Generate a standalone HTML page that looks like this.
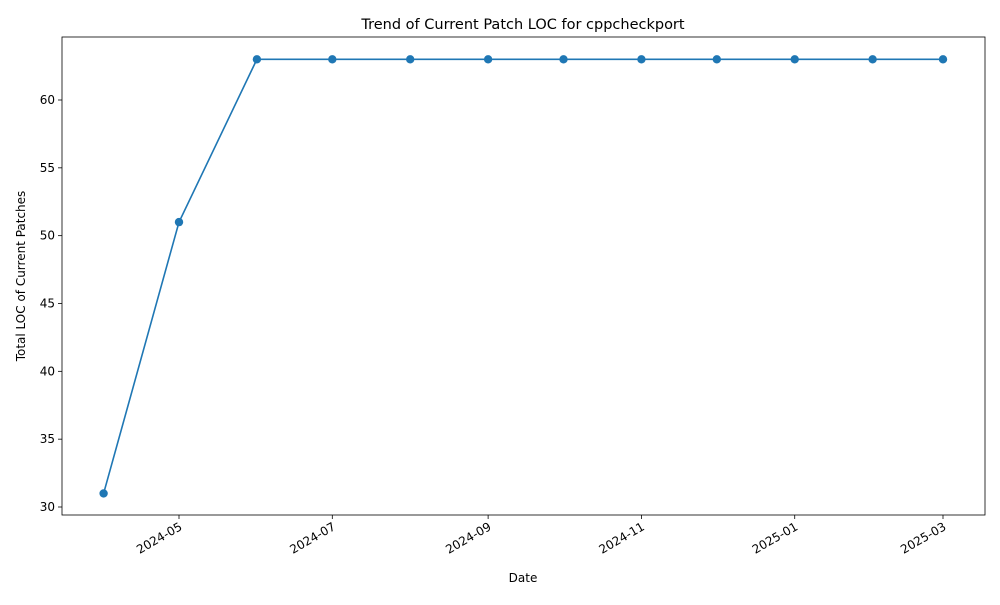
<!DOCTYPE html>
<html><head><meta charset="utf-8"><style>
body{margin:0;background:#fff;font-family:"Liberation Sans","DejaVu Sans",sans-serif}
svg text{font-family:"DejaVu Sans","Liberation Sans",sans-serif;font-size:12px;fill:#000}
</style></head><body>
<svg id="chart" width="1000" height="600">
<rect x="62" y="37" width="923" height="478" fill="none" stroke="#000" stroke-width="0.8"/>
<text x="523" y="29" text-anchor="middle" style="font-size:14.5px">Trend of Current Patch LOC for cppcheckport</text>
<text x="523" y="582" text-anchor="middle">Date</text>
<text transform="translate(25,276) rotate(-90)" text-anchor="middle">Total LOC of Current Patches</text>
<g id="axes"></g><g id="series"></g>
</svg>
<script>
const dates=["2024-04-01","2024-05-01","2024-06-01","2024-07-01","2024-08-01","2024-09-01","2024-10-01","2024-11-01","2024-12-01","2025-01-01","2025-02-01","2025-03-01"];
const values=[31,51,63,63,63,63,63,63,63,63,63,63];
const xTicks=["2024-05","2024-07","2024-09","2024-11","2025-01","2025-03"];
const yTicks=[30,35,40,45,50,55,60];
const NS="http://www.w3.org/2000/svg";
const day=s=>Date.parse(s.length===7?s+"-01":s)/86400000;
const d0=day("2024-05-01"),d1=day("2025-03-01");
const x=s=>179+(day(s)-d0)*(943-179)/(d1-d0);
const y=v=>507-(v-30)*(507-100)/30;
function mk(t,a,p){const e=document.createElementNS(NS,t);for(const k in a)e.setAttribute(k,a[k]);p.appendChild(e);return e;}
const ax=document.getElementById('axes'),se=document.getElementById('series');
yTicks.forEach(v=>{
 const l=mk('line',{x1:58,x2:62,y1:y(v),y2:y(v),stroke:'#000','stroke-width':0.8},ax);
 
 
 const t=mk('text',{x:55,y:y(v)+4,'text-anchor':'end'},ax);t.textContent=v;
 
 
});
xTicks.forEach(s=>{
 const X=x(s);
 const l=mk('line',{x1:X,x2:X,y1:515,y2:519,stroke:'#000','stroke-width':0.8},ax);
 
 
 const t=mk('text',{transform:`translate(${X+4},${529}) rotate(-30)`,'text-anchor':'end'},ax);t.textContent=s;
 
 
});
const pts=dates.map((d,i)=>x(d)+','+y(values[i])).join(' ');
const pl=mk('polyline',{points:pts,fill:'none',stroke:'#1f77b4','stroke-width':1.6},se);


dates.forEach((d,i)=>{
 const c=mk('circle',{cx:x(d),cy:y(values[i]),r:4.2,fill:'#1f77b4'},se);
 
 
});
</script>
</body></html>
